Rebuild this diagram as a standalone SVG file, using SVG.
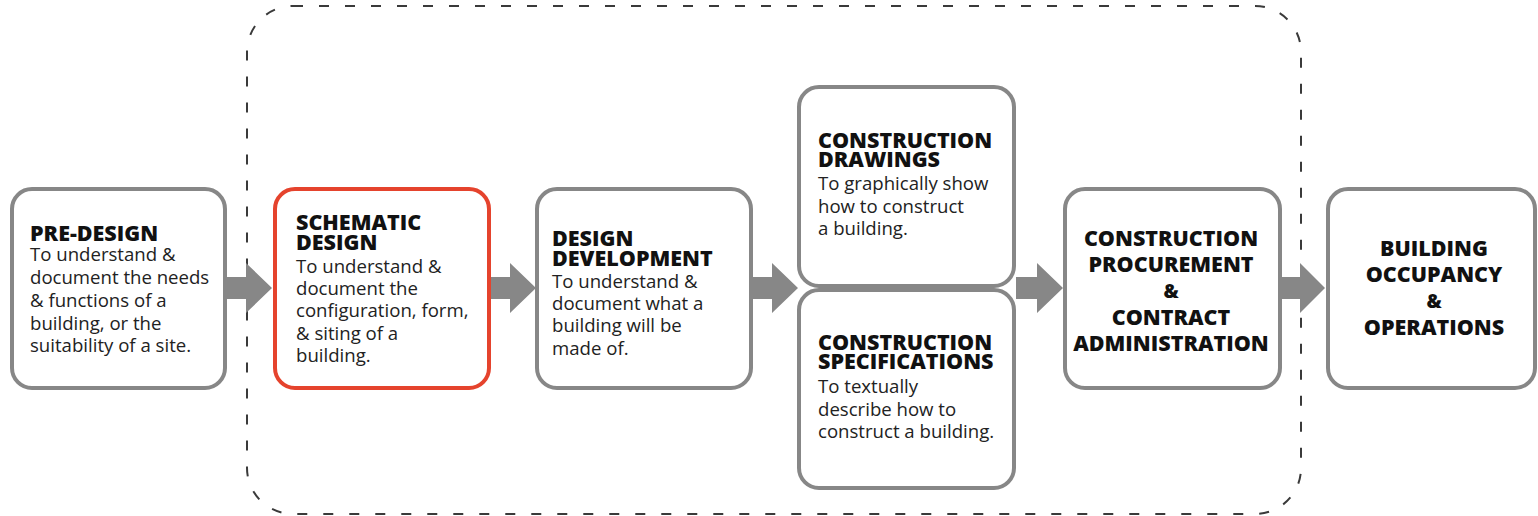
<svg xmlns="http://www.w3.org/2000/svg" width="1538" height="516" viewBox="0 0 1538 516">
<style>
.box{fill:#fff;stroke:#878787;stroke-width:4}
.red{stroke:#e5432d}
.t{font-family:"Open Sans","Liberation Sans",sans-serif;font-weight:800;font-size:21.5px;fill:#111}
.amp{font-size:19px}
.b{font-family:"Open Sans","Liberation Sans",sans-serif;font-weight:400;font-size:18.6px;fill:#222}
.c{text-anchor:middle}
.arr{fill:#878787}
.frame{fill:none;stroke:#3a3a3a;stroke-width:2;stroke-dasharray:10 16}
</style>
<rect class="frame" x="247" y="6" width="1054" height="508" rx="46" ry="46"/>
<g id="connectors">
<path class="arr" d="M227,277 H246 V263 L272,288 L246,313 V299 H227 Z"/>
<path class="arr" d="M491,277 H510 V263 L536,288 L510,313 V299 H491 Z"/>
<path class="arr" d="M753,277 H772 V263 L798,288 L772,313 V299 H753 Z"/>
<path class="arr" d="M1016,277 H1037 V263 L1063,288 L1037,313 V299 H1016 Z"/>
<path class="arr" d="M1282,277 H1300 V263 L1325,288 L1300,313 V299 H1282 Z"/>
</g>
<g id="pre-design">
<rect class="box" x="12" y="189" width="213" height="199" rx="20"/>
<text class="t" x="30" y="241">PRE-DESIGN</text>
<text class="b" x="30" y="261">To understand &amp;</text>
<text class="b" x="30" y="284">document the needs</text>
<text class="b" x="30" y="307">&amp; functions of a</text>
<text class="b" x="30" y="330">building, or the</text>
<text class="b" x="30" y="352">suitability of a site.</text>
</g>
<g id="schematic-design">
<rect class="box red" x="275" y="189" width="214" height="199" rx="20"/>
<text class="t" x="296" y="230">SCHEMATIC</text>
<text class="t" x="296" y="250">DESIGN</text>
<text class="b" x="296" y="273">To understand &amp;</text>
<text class="b" x="296" y="295">document the</text>
<text class="b" x="296" y="317">configuration, form,</text>
<text class="b" x="296" y="340">&amp; siting of a</text>
<text class="b" x="296" y="362">building.</text>
</g>
<g id="design-development">
<rect class="box" x="537" y="189" width="214" height="199" rx="20"/>
<text class="t" x="552" y="246">DESIGN</text>
<text class="t" x="552" y="266">DEVELOPMENT</text>
<text class="b" x="552" y="288">To understand &amp;</text>
<text class="b" x="552" y="310">document what a</text>
<text class="b" x="552" y="332">building will be</text>
<text class="b" x="552" y="355">made of.</text>
</g>
<g id="construction-drawings">
<rect class="box" x="799" y="87" width="215" height="199" rx="20"/>
<text class="t" x="818" y="148">CONSTRUCTION</text>
<text class="t" x="818" y="167">DRAWINGS</text>
<text class="b" x="818" y="190">To graphically show</text>
<text class="b" x="818" y="213">how to construct</text>
<text class="b" x="818" y="235">a building.</text>
</g>
<g id="construction-specifications">
<rect class="box" x="799" y="290" width="215" height="198" rx="20"/>
<text class="t" x="818" y="350">CONSTRUCTION</text>
<text class="t" x="818" y="369">SPECIFICATIONS</text>
<text class="b" x="818" y="393">To textually</text>
<text class="b" x="818" y="416">describe how to</text>
<text class="b" x="818" y="438">construct a building.</text>
</g>
<g id="construction-procurement">
<rect class="box" x="1065" y="189" width="215" height="199" rx="20"/>
<text class="t c" x="1171" y="246">CONSTRUCTION</text>
<text class="t c" x="1171" y="272">PROCUREMENT</text>
<text class="t c amp" x="1171" y="298">&amp;</text>
<text class="t c" x="1171" y="325">CONTRACT</text>
<text class="t c" x="1171" y="351">ADMINISTRATION</text>
</g>
<g id="building-occupancy">
<rect class="box" x="1328" y="189" width="207" height="199" rx="20"/>
<text class="t c" x="1434" y="256">BUILDING</text>
<text class="t c" x="1434" y="282">OCCUPANCY</text>
<text class="t c amp" x="1434" y="308">&amp;</text>
<text class="t c" x="1434" y="335">OPERATIONS</text>
</g>
</svg>
